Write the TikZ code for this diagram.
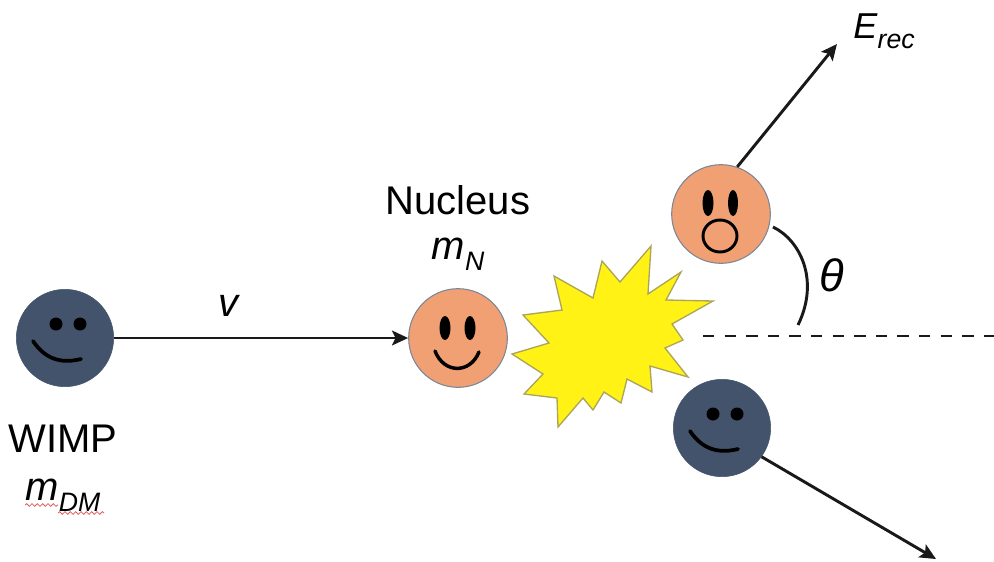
\documentclass[tikz,border=0pt]{standalone}
\usepackage{fontspec}
\setmainfont{Liberation Sans}
\usepackage{tikz}
\usetikzlibrary{arrows.meta, decorations.pathmorphing}
\definecolor{wimpblue}{RGB}{67,83,108}
\definecolor{nucorange}{RGB}{240,160,115}
\definecolor{flash}{RGB}{255,242,20}
\definecolor{flashedge}{RGB}{170,165,90}
\definecolor{spellred}{RGB}{225,90,90}
\newcommand{\masssub}[2]{\textit{#1}\raisebox{-0.28em}{\fontsize{20}{24}\selectfont\textit{#2}}}
\tikzset{
  label/.style={font=\fontsize{30}{36}\selectfont, inner sep=0pt},
  wimp/.style={circle, fill=wimpblue, draw=wimpblue, minimum size=73pt, inner sep=0pt},
  nuc/.style={circle, fill=nucorange, draw=wimpblue!70, line width=0.8pt, minimum size=74pt, inner sep=0pt},
  track/.style={-{Stealth[length=12pt, width=11pt, inset=2.5pt]}, line width=2.2pt, black!90},
  pics/smile/.style={code={
    \fill[black] (-9,-14) circle [radius=6.5];
    \fill[black] (15,-14) circle [radius=6.5];
    \draw[black, line width=2.8pt, line cap=round] (-32,3) .. controls (-18,24) and (0,25) .. (16,21);
  }},
  pics/happy/.style={code={
    \fill[black] (-13,-10) ellipse [x radius=5.5, y radius=12];
    \fill[black] (12,-10) ellipse [x radius=5.5, y radius=12];
    \draw[black, line width=2.6pt, line cap=round] (-23,13) .. controls (-14,36) and (12,36) .. (21,14);
  }},
  pics/shocked/.style={code={
    \fill[black] (-13,-11) ellipse [x radius=5.5, y radius=13];
    \fill[black] (12,-11) ellipse [x radius=5, y radius=13];
    \draw[black, line width=2.2pt] (-1,22) ellipse [x radius=17, y radius=16];
  }},
}
\begin{document}
\begin{tikzpicture}[x=0.75pt, y=-0.75pt]
  \useasboundingbox (0,0) rectangle (994,561);
  % the four particles
  \node[wimp] (wimpin) at (65,338) {};
  \node[nuc] (nucin) at (458,338) {};
  \node[nuc] (nucout) at (721,214) {};
  \node[wimp] (wimpout) at (722,428) {};
  \pic at (wimpin) {smile};
  \pic at (nucin) {happy};
  \pic at (nucout) {shocked};
  \pic at (wimpout) {smile};
  % collision flash
  \draw[fill=flash, draw=flashedge, line width=1pt]
    (512,354) -- (549,343) -- (523,315) -- (562,310) -- (554,276) -- (593,298)
    -- (602,261) -- (620,282) -- (651,246) -- (648,294) -- (681,272) -- (666,300)
    -- (713,301) -- (672,324) -- (683,340) -- (665,348) -- (688,377) -- (650,366)
    -- (652,392) -- (627,379) -- (621,403) -- (604,392) -- (593,410) -- (583,398)
    -- (558,427) -- (557,398) -- (524,394) -- (543,374) -- cycle;
  % end points of the free lines
  \coordinate (erecend) at (837,44);
  \coordinate (outend) at (936,559);
  \coordinate (axisstart) at (703,336);
  \coordinate (axisend) at (994,336);
  \draw[track] (wimpin) -- (nucin);
  \draw[track] (nucout.71) -- (erecend);
  \draw[track] (wimpout.-36) -- (outend);
  \draw[black!90, line width=2.2pt, dash pattern=on 8.6pt off 7.6pt] (axisstart) -- (axisend);
  \draw[black!90, line width=2.2pt] (773,227) .. controls (800,240) and (820,280) .. (798,325);
  % labels
  \node[label] (vlabel) at (229,306) {\textit{v}};
  \node[label] (nuclabel) at (458,200) {Nucleus};
  \node[label] (mnlabel) at (458,254) {\masssub{m}{N}};
  \node[label] (wimplabel) at (63,439) {WIMP};
  \node[label] (mdmlabel) at (63,495) {\masssub{m}{DM}};
  \node[label, font=\fontsize{27}{32}\selectfont] (erlabel) at (884,31) {\masssub{E}{rec}};
  \node[label, font=\fontsize{34}{40}\selectfont] (thetalabel) at (832,275) {\textit{θ}};
  \draw[spellred, line width=0.6pt, decorate, decoration={snake, amplitude=1pt, segment length=4pt}] (25,505) -- (58,505);
  \draw[spellred, line width=0.6pt, decorate, decoration={snake, amplitude=1pt, segment length=4pt}] (58,513) -- (104,513);
\end{tikzpicture}
\end{document}
